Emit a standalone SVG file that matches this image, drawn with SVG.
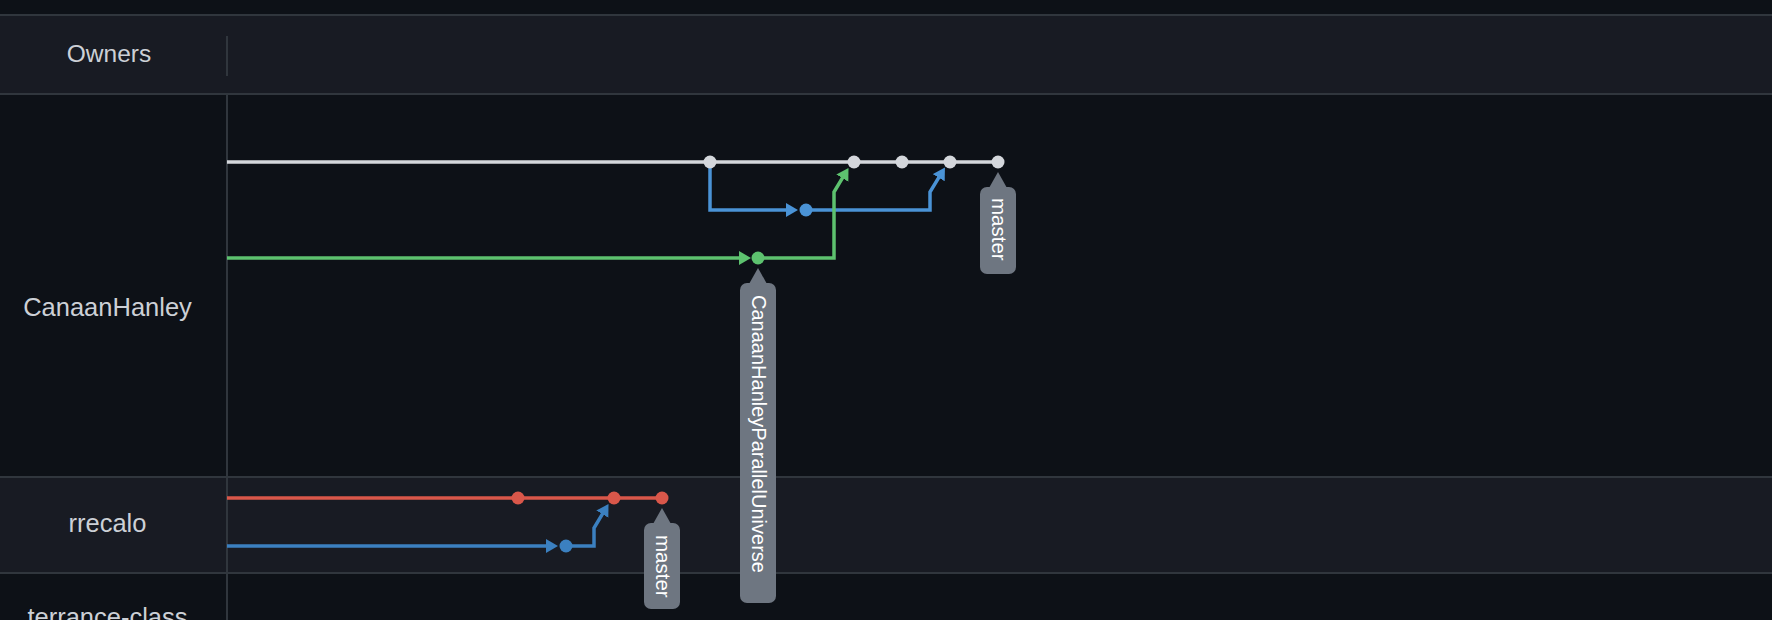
<svg xmlns="http://www.w3.org/2000/svg" width="1772" height="620" viewBox="0 0 1772 620">
<defs>
<style>
.lbl{font-family:"Liberation Sans",Arial,sans-serif;font-size:24.5px;fill:#ccd0d6;text-anchor:middle}
.tagtxt{font-family:"Liberation Sans",Arial,sans-serif;font-size:20.5px;fill:#ffffff}
.tag{fill:#6e7681}
.sep{stroke:#30363d;stroke-width:2}
.ln{fill:none;stroke-width:3.5;stroke-linejoin:miter}
.w{stroke:#d4d7dc}.wf{fill:#d4d7dc}
.b{stroke:#4a93d6}.bf{fill:#4a93d6}
.g{stroke:#5dc26f}.gf{fill:#5dc26f}
.r{stroke:#d9574a}.rf{fill:#d9574a}
.b2{stroke:#3b80c0}.b2f{fill:#3b80c0}
</style>
<marker id="ab" markerUnits="userSpaceOnUse" markerWidth="13" markerHeight="15" refX="5" refY="7" orient="auto"><path d="M0,0 L12,7 L0,14 z" fill="#4a93d6"/></marker>
<marker id="ag" markerUnits="userSpaceOnUse" markerWidth="13" markerHeight="15" refX="5" refY="7" orient="auto"><path d="M0,0 L12,7 L0,14 z" fill="#5dc26f"/></marker>
<marker id="ab2" markerUnits="userSpaceOnUse" markerWidth="13" markerHeight="15" refX="5" refY="7" orient="auto"><path d="M0,0 L12,7 L0,14 z" fill="#3b80c0"/></marker>
</defs>
<rect x="0" y="0" width="1772" height="620" fill="#0d1117"/>
<rect x="0" y="15" width="1772" height="79" fill="#181b23"/>
<rect x="0" y="477" width="1772" height="96" fill="#181b23"/>
<g id="grid">
<line class="sep" x1="0" y1="15" x2="1772" y2="15"/>
<line class="sep" x1="0" y1="94" x2="1772" y2="94"/>
<line class="sep" x1="0" y1="477" x2="1772" y2="477"/>
<line class="sep" x1="0" y1="573" x2="1772" y2="573"/>
<line class="sep" x1="227" y1="36" x2="227" y2="76"/>
<line class="sep" x1="227" y1="94" x2="227" y2="620"/>
</g>
<g id="row-labels">
<text class="lbl" x="109" y="62">Owners</text>
<text class="lbl" x="107.5" y="316" style="font-size:25.5px">CanaanHanley</text>
<text class="lbl" x="107.5" y="532" style="font-size:25.5px">rrecalo</text>
<text class="lbl" x="107.5" y="626" style="font-size:25.5px">terrance-class</text>
</g>
<g id="connectors">
<path class="ln w" d="M227,162 H998"/>
<path class="ln b" d="M710,162 V210 H791" marker-end="url(#ab)"/>
<path class="ln b" d="M806,210 H930 V192 L941.3,173.4" marker-end="url(#ab)"/>
<path class="ln g" d="M227,258 H744" marker-end="url(#ag)"/>
<path class="ln g" d="M758,258 H834 V192 L844.9,173.9" marker-end="url(#ag)"/>
<path class="ln r" d="M227,498 H662"/>
<path class="ln b2" d="M227,546 H551" marker-end="url(#ab2)"/>
<path class="ln b2" d="M566,546 H594 V528 L604.9,509.9" marker-end="url(#ab2)"/>
</g>
<g id="commits-master">
<circle class="wf" cx="710" cy="162" r="6.5"/>
<circle class="wf" cx="854" cy="162" r="6.5"/>
<circle class="wf" cx="902" cy="162" r="6.5"/>
<circle class="wf" cx="950" cy="162" r="6.5"/>
<circle class="wf" cx="998" cy="162" r="6.5"/>
</g>
<g id="commit-blue">
<circle class="bf" cx="806" cy="210" r="6.5"/>
</g>
<g id="commit-green">
<circle class="gf" cx="758" cy="258" r="6.5"/>
</g>
<g id="commits-rrecalo">
<circle class="rf" cx="518" cy="498" r="6.5"/>
<circle class="rf" cx="614" cy="498" r="6.5"/>
<circle class="rf" cx="662" cy="498" r="6.5"/>
<circle class="b2f" cx="566" cy="546" r="6.5"/>
</g>
<g id="tag-master-canaan">
<path class="tag" d="M989,188 L998,172 L1007,188 z"/>
<rect class="tag" x="980" y="187" width="36" height="87" rx="7"/>
<text class="tagtxt" transform="translate(991.5,198) rotate(90)">master</text>
</g>
<g id="tag-parallel">
<path class="tag" d="M749,284 L758,268 L767,284 z"/>
<rect class="tag" x="740" y="283" width="36" height="320" rx="7"/>
<text class="tagtxt" style="font-size:20px" transform="translate(751.5,295) rotate(90)">CanaanHanleyParallelUniverse</text>
</g>
<g id="tag-master-rrecalo">
<path class="tag" d="M653,524 L662,508 L671,524 z"/>
<rect class="tag" x="644" y="523" width="36" height="86" rx="7"/>
<text class="tagtxt" transform="translate(655.5,535) rotate(90)">master</text>
</g>
</svg>
